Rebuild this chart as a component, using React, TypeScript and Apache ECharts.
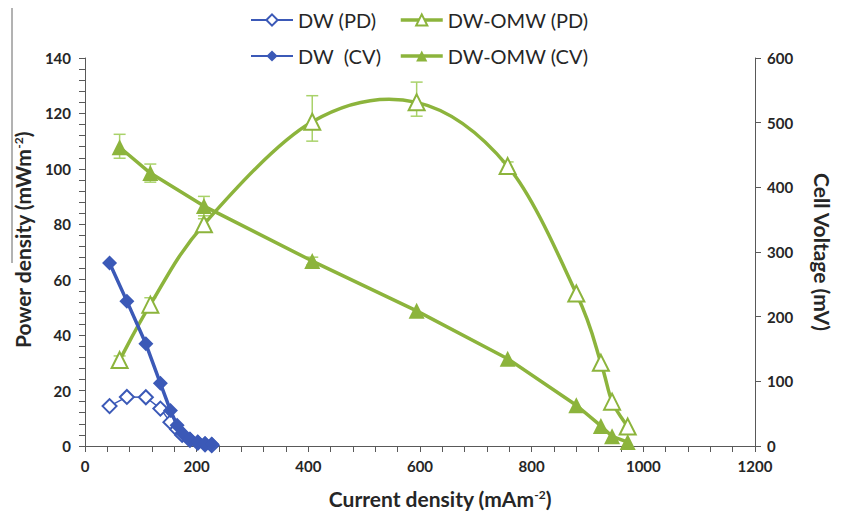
import React, { useEffect, useRef } from "react";
import * as echarts from "echarts";

// ---- Data ----
const dwCurrent = [44, 75, 109, 135, 153, 165, 174, 188, 202, 215, 227];
const dwPD = [14.4, 17.7, 17.6, 13.5, 8.6, 6.0, 4.0, 2.2, 1.2, 0.6, 0.3];
const dwCV = [283, 224, 158, 97, 55, 32, 20, 11, 6, 4, 3];

const omwCurrent = [62, 117, 213, 407, 594, 757, 880, 924, 944, 972];
const omwPD = [31, 51, 80, 117, 124, 101, 55, 30, 16, 7];
const omwCV = [462, 422, 371, 286, 209, 135, 63, 31, 15, 6];

// error bars: [current, low, high]
const omwPDErr = [
  [62, 29.5, 32.5],
  [117, 48.5, 53.5],
  [213, 78, 82],
  [407, 110, 126.4],
  [594, 119, 131.3],
  [757, 99.5, 102.5],
];
const omwCVErr = [
  [62, 445, 482],
  [117, 408, 436],
  [213, 356, 386],
  [407, 280, 292],
];

const BLUE = "#3B59B7";
const GREEN = "#8CB43C";
const ERR = "#A9D26A";
const AXIS = "#595959";
const TXT = "#262626";
const FONT = "Lato, 'Open Sans', sans-serif";

const zip = (xs: number[], ys: number[]) => xs.map((x, i) => [x, ys[i]]);

const errRender = (params: any, api: any) => {
  const x = api.value(0);
  const lo = api.coord([x, api.value(1)]);
  const hi = api.coord([x, api.value(2)]);
  const w = 6;
  const style = { stroke: ERR, lineWidth: 1.5 };
  return {
    type: "group",
    children: [
      { type: "line", shape: { x1: lo[0], y1: lo[1], x2: hi[0], y2: hi[1] }, style },
      { type: "line", shape: { x1: lo[0] - w, y1: lo[1], x2: lo[0] + w, y2: lo[1] }, style },
      { type: "line", shape: { x1: hi[0] - w, y1: hi[1], x2: hi[0] + w, y2: hi[1] }, style },
    ],
  };
};

// Excel-like smoothed curve (Catmull-Rom -> cubic Bezier) through the data points
const smoothRender = (xs: number[], ys: number[], color: string) => (params: any, api: any) => {
  const i = params.dataIndex;
  const n = xs.length;
  if (i >= n - 1) return { type: "group", children: [] };
  const pt = (j: number) => {
    const k = Math.max(0, Math.min(n - 1, j));
    return api.coord([xs[k], ys[k]]);
  };
  const p0 = pt(i - 1);
  const p1 = pt(i);
  const p2 = pt(i + 1);
  const p3 = pt(i + 2);
  const t = 6;
  return {
    type: "bezierCurve",
    shape: {
      x1: p1[0],
      y1: p1[1],
      cpx1: p1[0] + (p2[0] - p0[0]) / t,
      cpy1: p1[1] + (p2[1] - p0[1]) / t,
      cpx2: p2[0] - (p3[0] - p1[0]) / t,
      cpy2: p2[1] - (p3[1] - p1[1]) / t,
      x2: p2[0],
      y2: p2[1],
    },
    style: { stroke: color, lineWidth: 3.5, fill: "none", lineCap: "round" },
  };
};

export default function App() {
  const ref = useRef<HTMLDivElement>(null);
  useEffect(() => {
    if (!ref.current) return;
    const chart = echarts.init(ref.current, null, { renderer: "svg" });
    const tickLabel = { fontFamily: FONT, fontWeight: "bold", fontSize: 15, color: TXT };
    const nameStyle = {
      fontFamily: FONT,
      fontWeight: "bold",
      fontSize: 21,
      color: TXT,
      rich: {
        sup: { fontFamily: FONT, fontWeight: "bold", fontSize: 12, color: TXT, verticalAlign: "top", lineHeight: 12 },
      },
    };
    const legendCommon = {
      orient: "vertical",
      itemWidth: 42,
      itemHeight: 14,
      itemGap: 14,
      itemTextGap: 4,
      padding: 0,
      textStyle: { fontFamily: FONT, fontSize: 20, color: TXT, lineHeight: 22 },
      top: 9,
    };
    chart.setOption({
      animation: false,
      backgroundColor: "#fff",
      grid: { left: 85, right: 81, top: 58, bottom: 68 },
      legend: [
        { ...legendCommon, left: 250, data: ["DW (PD)", "DW  (CV)"] },
        {
          ...legendCommon,
          left: 399,
          data: ["DW-OMW (PD)", "DW-OMW (CV)"],
          lineStyle: { color: GREEN, width: 3.5, opacity: 1 },
        },
      ],
      graphic: [
        {
          type: "line",
          shape: { x1: 12, y1: 8, x2: 12, y2: 263 },
          style: { stroke: "#666", lineWidth: 1 },
        },
      ],
      xAxis: {
        type: "value",
        min: 0,
        max: 1200,
        interval: 200,
        name: "Current density (mAm{sup|-2})",
        nameLocation: "middle",
        nameGap: 42,
        nameTextStyle: { ...nameStyle, padding: [0, 0, 0, 40] },
        axisLine: { show: true, lineStyle: { color: AXIS, width: 1 } },
        axisTick: { show: true, inside: false, length: 6, lineStyle: { color: AXIS } },
        minorTick: { show: true, splitNumber: 5, length: 6, lineStyle: { color: AXIS } },
        splitLine: { show: false },
        axisLabel: { ...tickLabel, margin: 12, formatter: (v: number) => String(v) },
      },
      yAxis: [
        {
          type: "value",
          min: 0,
          max: 140,
          interval: 20,
          position: "left",
          name: "Power density (mWm{sup|-2})",
          nameLocation: "middle",
          nameRotate: 90,
          nameGap: 52,
          nameTextStyle: { ...nameStyle, padding: [0, 0, 0, 24] },
          axisLine: { show: true, lineStyle: { color: AXIS, width: 1 } },
          axisTick: { show: true, inside: false, length: 6, lineStyle: { color: AXIS } },
          minorTick: { show: true, splitNumber: 5, length: 6, lineStyle: { color: AXIS } },
          splitLine: { show: false },
          axisLabel: { ...tickLabel, margin: 14 },
        },
        {
          type: "value",
          min: 0,
          max: 600,
          interval: 100,
          position: "right",
          name: "Cell Voltage (mV)",
          nameLocation: "middle",
          nameRotate: -90,
          nameGap: 57,
          nameTextStyle: nameStyle,
          axisLine: { show: true, lineStyle: { color: AXIS, width: 1 } },
          axisTick: { show: true, inside: false, length: 6, lineStyle: { color: AXIS } },
          splitLine: { show: false },
          axisLabel: { ...tickLabel, margin: 12 },
        },
      ],
      series: [
        {
          type: "custom",
          name: "errPD",
          yAxisIndex: 0,
          data: omwPDErr,
          encode: { x: 0, y: [1, 2] },
          renderItem: errRender,
          z: 1,
          silent: true,
        },
        {
          type: "custom",
          name: "errCV",
          yAxisIndex: 1,
          data: omwCVErr,
          encode: { x: 0, y: [1, 2] },
          renderItem: errRender,
          z: 1,
          silent: true,
        },
        {
          type: "custom",
          name: "curvePD",
          yAxisIndex: 0,
          data: zip(omwCurrent, omwPD),
          encode: { x: 0, y: 1 },
          renderItem: smoothRender(omwCurrent, omwPD, GREEN),
          z: 2,
          silent: true,
        },
        {
          name: "DW-OMW (PD)",
          type: "line",
          yAxisIndex: 0,
          data: zip(omwCurrent, omwPD),
          symbol: "emptyTriangle",
          symbolSize: 16,
          lineStyle: { color: GREEN, width: 3.5, opacity: 0 },
          itemStyle: { color: GREEN, borderWidth: 2 },
          z: 3,
        },
        {
          name: "DW-OMW (CV)",
          type: "line",
          yAxisIndex: 1,
          data: zip(omwCurrent, omwCV),
          symbol: "triangle",
          symbolSize: 16,
          lineStyle: { color: GREEN, width: 3.5 },
          itemStyle: { color: GREEN },
          z: 3,
        },
        {
          name: "DW (PD)",
          type: "line",
          yAxisIndex: 0,
          data: zip(dwCurrent, dwPD),
          symbol: "emptyDiamond",
          symbolSize: 14,
          lineStyle: { color: BLUE, width: 1.5 },
          itemStyle: { color: BLUE, borderWidth: 1.5 },
          z: 4,
        },
        {
          name: "DW  (CV)",
          type: "line",
          yAxisIndex: 1,
          data: zip(dwCurrent, dwCV),
          symbol: "diamond",
          symbolSize: 15,
          lineStyle: { color: BLUE, width: 3.5 },
          itemStyle: { color: BLUE },
          z: 5,
        },
      ],
    });
    return () => chart.dispose();
  }, []);
  return <div ref={ref} style={{ width: 841, height: 514, position: "absolute", left: 0, top: 0 }} />;
}
